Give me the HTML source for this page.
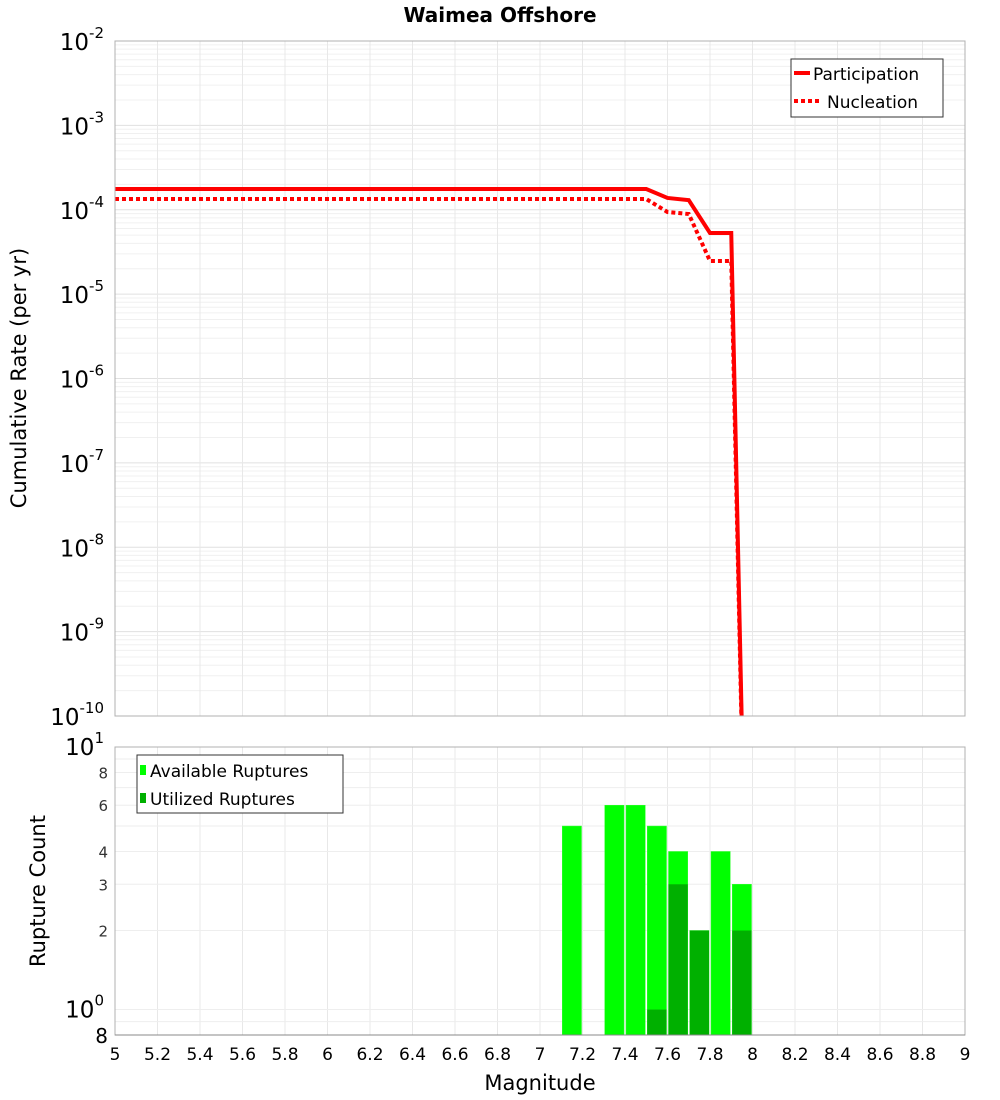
<!DOCTYPE html>
<html><head><meta charset="utf-8"><style>html,body{margin:0;background:#fff;width:1000px;height:1100px;overflow:hidden}svg{display:block;font-family:"DejaVu Sans","Liberation Sans",sans-serif}</style></head>
<body>
<svg id="c" width="1000" height="1100" xmlns="http://www.w3.org/2000/svg"></svg>
<script>
const mags=[5,5.1,5.2,5.3,5.4,5.5,5.6,5.7,5.8,5.9,6,6.1,6.2,6.3,6.4,6.5,6.6,6.7,6.8,6.9,7,7.1,7.2,7.3,7.4,7.5,7.6,7.7,7.8,7.9,8.0];
const partVals=[1.76e-4,1.76e-4,1.76e-4,1.76e-4,1.76e-4,1.76e-4,1.76e-4,1.76e-4,1.76e-4,1.76e-4,1.76e-4,1.76e-4,1.76e-4,1.76e-4,1.76e-4,1.76e-4,1.76e-4,1.76e-4,1.76e-4,1.76e-4,1.76e-4,1.76e-4,1.76e-4,1.76e-4,1.76e-4,1.76e-4,1.38e-4,1.3e-4,5.3e-5,5.3e-5,1e-16];
const nuclVals=[1.34e-4,1.34e-4,1.34e-4,1.34e-4,1.34e-4,1.34e-4,1.34e-4,1.34e-4,1.34e-4,1.34e-4,1.34e-4,1.34e-4,1.34e-4,1.34e-4,1.34e-4,1.34e-4,1.34e-4,1.34e-4,1.34e-4,1.34e-4,1.34e-4,1.34e-4,1.34e-4,1.34e-4,1.34e-4,1.34e-4,9.4e-5,8.9e-5,2.47e-5,2.47e-5,1e-16];
const barMags=[7.1,7.2,7.3,7.4,7.5,7.6,7.7,7.8,7.9];
const availCounts=[5,0,6,6,5,4,2,4,3];
const usedCounts=[0,0,0,0,1,3,2,0,2];
const xTicks=[5,5.2,5.4,5.6,5.8,6,6.2,6.4,6.6,6.8,7,7.2,7.4,7.6,7.8,8,8.2,8.4,8.6,8.8,9];
const yTopExp=[-2,-3,-4,-5,-6,-7,-8,-9,-10];
const yBotTicks=[2,3,4,6,8];

const NS="http://www.w3.org/2000/svg",svg=document.getElementById('c');
function mk(t,a,p,txt){const e=document.createElementNS(NS,t);for(const k in a)e.setAttribute(k,a[k]);if(txt!==undefined)e.textContent=txt;(p||svg).appendChild(e);return e;}
const L=115,R=965,T1=41,B1=716,T2=747,B2=1035;
const x=m=>L+(m-5)/4*(R-L);
const y1=v=>T1+(-2-Math.log10(v))/8*(B1-T1);
const lb=Math.log10(0.8);
const y2=v=>B2-(Math.log10(v)-lb)/(1-lb)*(B2-T2);

let t=mk('text',{x:500,y:22,'text-anchor':'middle','font-size':20,'font-weight':'bold'},svg,'Waimea Offshore');


const g1=mk('g',{});
for(let d=-10;d<-2;d++)for(let k=1;k<10;k++){const yy=y1(k*Math.pow(10,d));mk('line',{x1:L,x2:R,y1:yy,y2:yy,stroke:k==1?'#e0e0e0':'#f0f0f0','stroke-width':1},g1);}
xTicks.forEach(m=>{mk('line',{x1:x(m),x2:x(m),y1:T1,y2:B1,stroke:'#e8e8e8'},g1);mk('line',{x1:x(m),x2:x(m),y1:T2,y2:B2,stroke:'#e8e8e8'},g1);});
const g2=mk('g',{});
[0.9,1,2,3,4,5,6,7,8,9].forEach(v=>mk('line',{x1:L,x2:R,y1:y2(v),y2:y2(v),stroke:'#eeeeee'},g2));

const clip=mk('clipPath',{id:'cp1'});mk('rect',{x:L,y:T1,width:R-L,height:B1-T1},clip);
function pts(vals){return mags.map((m,i)=>x(m)+','+y1(vals[i])).join(' ');}
let pl=mk('polyline',{points:pts(partVals),fill:'none',stroke:'#ff0000','stroke-width':4,'clip-path':'url(#cp1)'});

let nl=mk('polyline',{points:pts(nuclVals),fill:'none',stroke:'#ff0000','stroke-width':4,'stroke-dasharray':'4,3','clip-path':'url(#cp1)'});


const bw=(x(5.1)-x(5))-2;
barMags.forEach((m,i)=>{
  if(availCounts[i]>0){const r=mk('rect',{x:x(m)+1,y:y2(availCounts[i]),width:bw,height:B2-y2(availCounts[i]),fill:'#00ff00',stroke:'#33ff33','stroke-width':0.5});
  }
  if(usedCounts[i]>0){const r=mk('rect',{x:x(m)+1,y:y2(usedCounts[i]),width:bw,height:B2-y2(usedCounts[i]),fill:'#00b000'});
  }
});

mk('rect',{x:L,y:T1,width:R-L,height:B1-T1,fill:'none',stroke:'#b0b0b0'});
mk('rect',{x:L,y:T2,width:R-L,height:B2-T2,fill:'none',stroke:'#b0b0b0'});
mk('line',{x1:L,x2:R,y1:B2,y2:B2,stroke:'#888'});

yTopExp.forEach(e=>{const yy=y1(Math.pow(10,e));const tx=mk('text',{x:104,y:yy+9,'text-anchor':'end','font-size':23});
 
 mk('tspan',{},tx,'10');mk('tspan',{dy:-12,'font-size':15},tx,String(e));});
let tx=mk('text',{x:104,y:T2+8,'text-anchor':'end','font-size':23});mk('tspan',{},tx,'10');mk('tspan',{dy:-12,'font-size':15},tx,'1');
tx=mk('text',{x:104,y:y2(1)+8,'text-anchor':'end','font-size':23});mk('tspan',{},tx,'10');mk('tspan',{dy:-12,'font-size':15},tx,'0');
mk('text',{x:108,y:B2+8,'text-anchor':'end','font-size':20},svg,'8');
yBotTicks.forEach(v=>{const e=mk('text',{x:108,y:y2(v)+6,'text-anchor':'end','font-size':15,fill:'#333'},svg,String(v));});
xTicks.forEach(m=>{const e=mk('text',{x:x(m),y:1060,'text-anchor':'middle','font-size':17},svg,String(m));});

let a=mk('text',{x:540,y:1090,'text-anchor':'middle','font-size':21},svg,'Magnitude');
a=mk('text',{x:0,y:0,'text-anchor':'middle','font-size':21,transform:'translate(26,378) rotate(-90)'},svg,'Cumulative Rate (per yr)');
a=mk('text',{x:0,y:0,'text-anchor':'middle','font-size':21,transform:'translate(45,891) rotate(-90)'},svg,'Rupture Count');

let lg=mk('g',{});
mk('rect',{x:791,y:59,width:152,height:58,fill:'#fff',stroke:'#333'},lg);
mk('line',{x1:794,x2:810,y1:73,y2:73,stroke:'#f00','stroke-width':4},lg);
mk('text',{x:813,y:80,'font-size':17},lg,'Participation');
mk('line',{x1:794,x2:822,y1:101,y2:101,stroke:'#f00','stroke-width':4,'stroke-dasharray':'4,3'},lg);
mk('text',{x:827,y:108,'font-size':17},lg,'Nucleation');
lg=mk('g',{});
mk('rect',{x:137,y:755,width:206,height:58,fill:'#fff',stroke:'#333'},lg);
mk('rect',{x:140,y:765,width:6,height:10,fill:'#00ff00'},lg);
mk('text',{x:150,y:777,'font-size':17},lg,'Available Ruptures');
mk('rect',{x:140,y:793,width:6,height:10,fill:'#00b000'},lg);
mk('text',{x:150,y:805,'font-size':17},lg,'Utilized Ruptures');
</script>
</body></html>
